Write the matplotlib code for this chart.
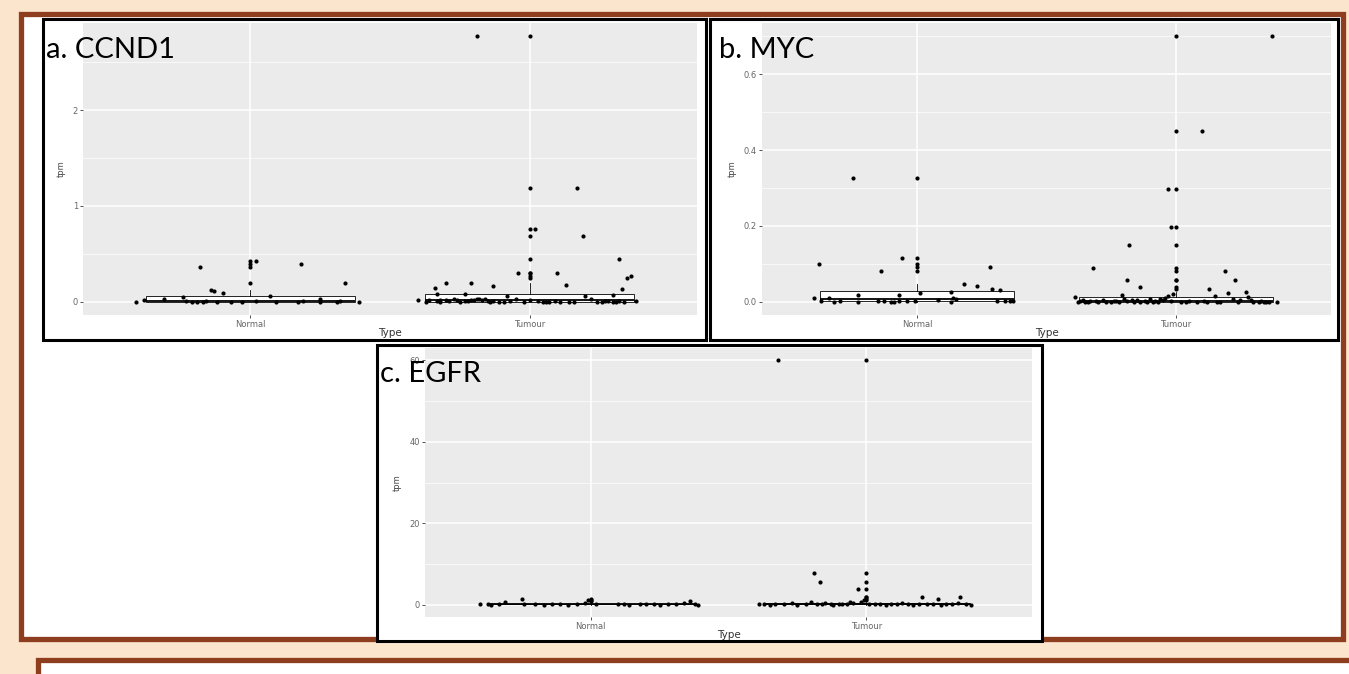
import numpy as np
import matplotlib
matplotlib.use("Agg")
import matplotlib.pyplot as plt
from matplotlib import patches

W, H = 1349, 674

categories = ["Normal", "Tumour"]

# a. CCND1
ccnd1_normal = [0.0, 0.02, 0.03, 0.045, 0.005, 0.0, 0.0, 0.0, 0.005, 0.36, 0.125, 0.11, 0.09, 0.0, 0.0,
                0.0, 0.01, 0.06, 0.0, 0.0, 0.01, 0.39, 0.03, 0.0, 0.0, 0.005, 0.2, 0.0, 0.43]
ccnd1_normal_jit = [-0.41, -0.38, -0.31, -0.24, -0.23, -0.21, -0.19, -0.17, -0.16, -0.18, -0.14, -0.13, -0.10, -0.12, -0.07,
                    -0.03, 0.02, 0.07, 0.09, 0.17, 0.19, 0.18, 0.25, 0.25, 0.31, 0.32, 0.34, 0.39, 0.02]
ccnd1_tumour = [2.77, 1.19, 0.76, 0.69, 0.45, 0.30, 0.30, 0.25, 0.265,
                0.20, 0.20, 0.16, 0.17, 0.14, 0.13, 0.085, 0.085, 0.07, 0.06, 0.06,
                0.015, 0.0, 0.02, 0.01, 0.02, 0.0, 0.02, 0.005, 0.03, 0.02,
                0.0, 0.01, 0.01, 0.02, 0.015, 0.025, 0.03, 0.02, 0.025, 0.01,
                0.0, 0.01, 0.0, 0.0, 0.005, 0.03, 0.0, 0.02, 0.01, 0.0,
                0.0, 0.005, 0.0, 0.0, 0.0, 0.03, 0.0, 0.0, 0.01, 0.005,
                0.0, 0.0, 0.01, 0.0, 0.01, 0.0]
ccnd1_tumour_jit = [-0.19, 0.17, 0.02, 0.19, 0.32, -0.04, 0.10, 0.35, 0.365,
                    -0.30, -0.21, -0.13, 0.13, -0.34, 0.33, -0.33, -0.23, 0.30, -0.08, 0.20,
                    -0.40, -0.37, -0.36, -0.33, -0.32, -0.32, -0.30, -0.29, -0.27, -0.26,
                    -0.25, -0.23, -0.22, -0.21, -0.20, -0.19, -0.18, -0.17, -0.16, -0.15,
                    -0.14, -0.13, -0.11, -0.09, -0.07, -0.05, -0.02, 0.00, 0.03, 0.05,
                    0.07, 0.09, 0.11, 0.14, 0.16, 0.22, 0.24, 0.26, 0.27, 0.28,
                    0.30, 0.31, 0.32, 0.34, 0.38, 0.06]
ccnd1_ticks = [0, 1, 2]
ccnd1_ticklabels = ["0", "1", "2"]
ccnd1_minor = [0.5, 1.5, 2.5]

# b. MYC
myc_normal = [0.009, 0.10, 0.003, 0.01, 0.0, 0.003, 0.326, 0.019, 0.0, 0.003, 0.08, 0.003, 0.0, 0.0, 0.017,
              0.003, 0.115, 0.003, 0.003, 0.022, 0.005, 0.025, 0.0, 0.01, 0.008, 0.046, 0.042, 0.092, 0.033, 0.031,
              0.003, 0.003, 0.003, 0.003]
myc_normal_jit = [-0.40, -0.38, -0.37, -0.34, -0.32, -0.30, -0.25, -0.23, -0.23, -0.15, -0.14, -0.13, -0.10, -0.09, -0.07,
                  -0.07, -0.06, -0.04, -0.01, 0.01, 0.08, 0.13, 0.13, 0.14, 0.15, 0.18, 0.23, 0.28, 0.29, 0.32,
                  0.31, 0.34, 0.36, 0.37]
myc_tumour = [0.70, 0.45, 0.296, 0.198, 0.149, 0.088, 0.081, 0.057, 0.056, 0.04, 0.033,
              0.012, 0.0, 0.002, 0.0, 0.003, 0.0, 0.005, 0.0, 0.002, 0.0,
              0.018, 0.008, 0.002, 0.004, 0.0, 0.003, 0.0, 0.006, 0.003, 0.0,
              0.008, 0.004, 0.011, 0.015, 0.02, 0.0, 0.003, 0.0, 0.002, 0.015,
              0.0, 0.0, 0.022, 0.006, 0.005, 0.026, 0.012, 0.0, 0.0, 0.002,
              0.0, 0.0, 0.0,
              0.004, 0.0, 0.002, 0.0, 0.003, 0.0, 0.005, 0.0, 0.003, 0.0, 0.0, 0.0, 0.004, 0.0]
myc_tumour_jit = [0.37, 0.10, -0.03, -0.02, -0.18, -0.32, 0.19, -0.19, 0.23, -0.14, 0.13,
                  -0.39, -0.38, -0.37, -0.35, -0.33, -0.30, -0.28, -0.25, -0.24, -0.22,
                  -0.21, -0.20, -0.19, -0.17, -0.14, -0.12, -0.11, -0.10, -0.08, -0.07,
                  -0.06, -0.05, -0.04, -0.03, -0.01, 0.02, 0.05, 0.08, 0.11, 0.15,
                  0.16, 0.17, 0.20, 0.22, 0.25, 0.27, 0.28, 0.30, 0.32, 0.33,
                  0.35, 0.36, 0.39,
                  -0.36, -0.34, -0.31, -0.27, -0.23, -0.16, -0.15, -0.09, -0.02, 0.04, 0.12, 0.24, 0.29, 0.34]
myc_ticks = [0.0, 0.2, 0.4, 0.6]
myc_ticklabels = ["0.0", "0.2", "0.4", "0.6"]
myc_minor = [0.1, 0.3, 0.5, 0.7]

# c. EGFR
egfr_normal = [0.1, 0.2, 0.0, 0.3, 0.6, 1.4, 0.2, 0.1, 0.0, 0.2, 0.1, 0.0, 0.3, 0.5, 1.2,
               0.2, 0.1, 0.3, 0.0, 0.2, 0.1, 0.3, 0.0, 0.2, 0.1, 0.4, 0.9, 0.2, 0.0]
egfr_normal_jit = [-0.40, -0.37, -0.36, -0.33, -0.31, -0.25, -0.24, -0.20, -0.17, -0.14, -0.11, -0.08, -0.05, -0.02, -0.01,
                   0.02, 0.10, 0.12, 0.14, 0.18, 0.20, 0.23, 0.25, 0.28, 0.31, 0.34, 0.36, 0.38, 0.39]
egfr_tumour = [60.0, 7.9, 5.5, 3.8, 2.0, 1.4, 1.8,
               0.1, 0.3, 0.0, 0.2, 0.1, 0.4, 0.0, 0.2, 0.6, 0.3,
               0.1, 0.5, 0.2, 0.0, 0.3, 0.1, 0.2, 0.8, 0.4, 0.6,
               1.2, 0.2, 0.1, 0.3, 0.0, 0.2, 0.1, 0.4, 0.2, 0.0,
               0.3, 0.1, 0.2, 0.0, 0.3, 0.1, 0.5, 0.2, 0.0]
egfr_tumour_jit = [-0.32, -0.19, -0.17, -0.03, 0.20, 0.26, 0.34,
                   -0.39, -0.37, -0.35, -0.33, -0.30, -0.27, -0.25, -0.22, -0.20, -0.18,
                   -0.16, -0.15, -0.13, -0.12, -0.10, -0.09, -0.07, -0.06, -0.05, -0.02,
                   -0.01, 0.01, 0.03, 0.05, 0.07, 0.09, 0.11, 0.13, 0.15, 0.17,
                   0.19, 0.22, 0.24, 0.27, 0.29, 0.31, 0.33, 0.36, 0.38]
egfr_ticks = [0, 20, 40, 60]
egfr_ticklabels = ["0", "20", "40", "60"]
egfr_minor = [10, 30, 50]


def px_rect(x0, y0, x1, y1):
    # pixel box (top-left origin) -> figure fraction [l, b, w, h]
    return [x0 / W, 1 - y1 / H, (x1 - x0) / W, (y1 - y0) / H]


def frame(fig, x0, y0, x1, y1, edge, lw, z):
    l, b, w, h = px_rect(x0, y0, x1, y1)
    r = patches.Rectangle((l, b), w, h, transform=fig.transFigure, facecolor="white",
                          edgecolor=edge, linewidth=lw, zorder=z)
    fig.add_artist(r)


def draw_panel(fig, rect, normal, normal_jit, tumour, tumour_jit, ticks, ticklabels, minor):
    ax = fig.add_axes(px_rect(*rect))
    ax.set_facecolor("#EBEBEB")
    ax.set_axisbelow(True)
    for s in ax.spines.values():
        s.set_visible(False)

    ax.boxplot([normal, tumour], positions=[1, 2], widths=0.75, patch_artist=True,
               boxprops=dict(facecolor="white", edgecolor="black", linewidth=0.6),
               medianprops=dict(color="black", linewidth=1.3),
               whiskerprops=dict(color="black", linewidth=0.6),
               capprops=dict(linewidth=0),
               flierprops=dict(marker="o", markerfacecolor="black", markeredgewidth=0,
                               markersize=3.0))
    ax.scatter(1 + np.array(normal_jit), normal, s=9, color="black", zorder=3, linewidths=0)
    ax.scatter(2 + np.array(tumour_jit), tumour, s=9, color="black", zorder=3, linewidths=0)

    allv = np.array(normal + tumour)
    pad = 0.05 * (allv.max() - allv.min())
    ax.set_ylim(allv.min() - pad, allv.max() + pad)
    ax.set_xlim(0.4, 2.6)

    ax.set_xticks([1, 2])
    ax.set_xticklabels(categories)
    ax.set_yticks(ticks)
    ax.set_yticklabels(ticklabels)
    ax.set_yticks(minor, minor=True)
    ax.grid(which="major", color="white", linewidth=1.1)
    ax.grid(which="minor", axis="y", color="white", linewidth=0.5)
    ax.tick_params(which="major", length=2.5, width=0.6, color="#333333", labelsize=6,
                   labelcolor="#666666", pad=1.2)
    ax.tick_params(which="minor", length=0)
    ax.set_xlabel("Type", fontsize=7.5, color="#333333", labelpad=-0.5)
    ax.set_ylabel("tpm", fontsize=6, color="#444444", labelpad=5)
    return ax


fig = plt.figure(figsize=(W / 100, H / 100), dpi=100)
fig.patch.set_facecolor("#FBE5CD")

# brown outer frame and the lower box
frame(fig, 21, 14, 1343, 639, "#8E3E1F", 3.8, -6)
frame(fig, 38, 660, 1370, 700, "#8E3E1F", 3.8, -6)

# black panel borders
frame(fig, 43, 19, 706, 340, "black", 2.2, -4)
frame(fig, 710, 19, 1338, 340, "black", 2.2, -4)
frame(fig, 377, 345, 1042, 641, "black", 2.2, -4)

draw_panel(fig, (83, 23, 697, 315), ccnd1_normal, ccnd1_normal_jit, ccnd1_tumour, ccnd1_tumour_jit,
           ccnd1_ticks, ccnd1_ticklabels, ccnd1_minor)
draw_panel(fig, (762, 23, 1331, 315), myc_normal, myc_normal_jit, myc_tumour, myc_tumour_jit,
           myc_ticks, myc_ticklabels, myc_minor)
draw_panel(fig, (425, 348, 1032, 617), egfr_normal, egfr_normal_jit, egfr_tumour, egfr_tumour_jit,
           egfr_ticks, egfr_ticklabels, egfr_minor)

title_font = dict(fontsize=21, family=["Lato", "DejaVu Sans"], color="black", va="center", ha="left", zorder=10)
fig.text(46 / W, 1 - 50 / H, "a. CCND1", **title_font)
fig.text(719 / W, 1 - 50 / H, "b. MYC", **title_font)
fig.text(380 / W, 1 - 374 / H, "c. EGFR", **title_font)

plt.savefig("out.png", dpi=100, facecolor=fig.get_facecolor())
